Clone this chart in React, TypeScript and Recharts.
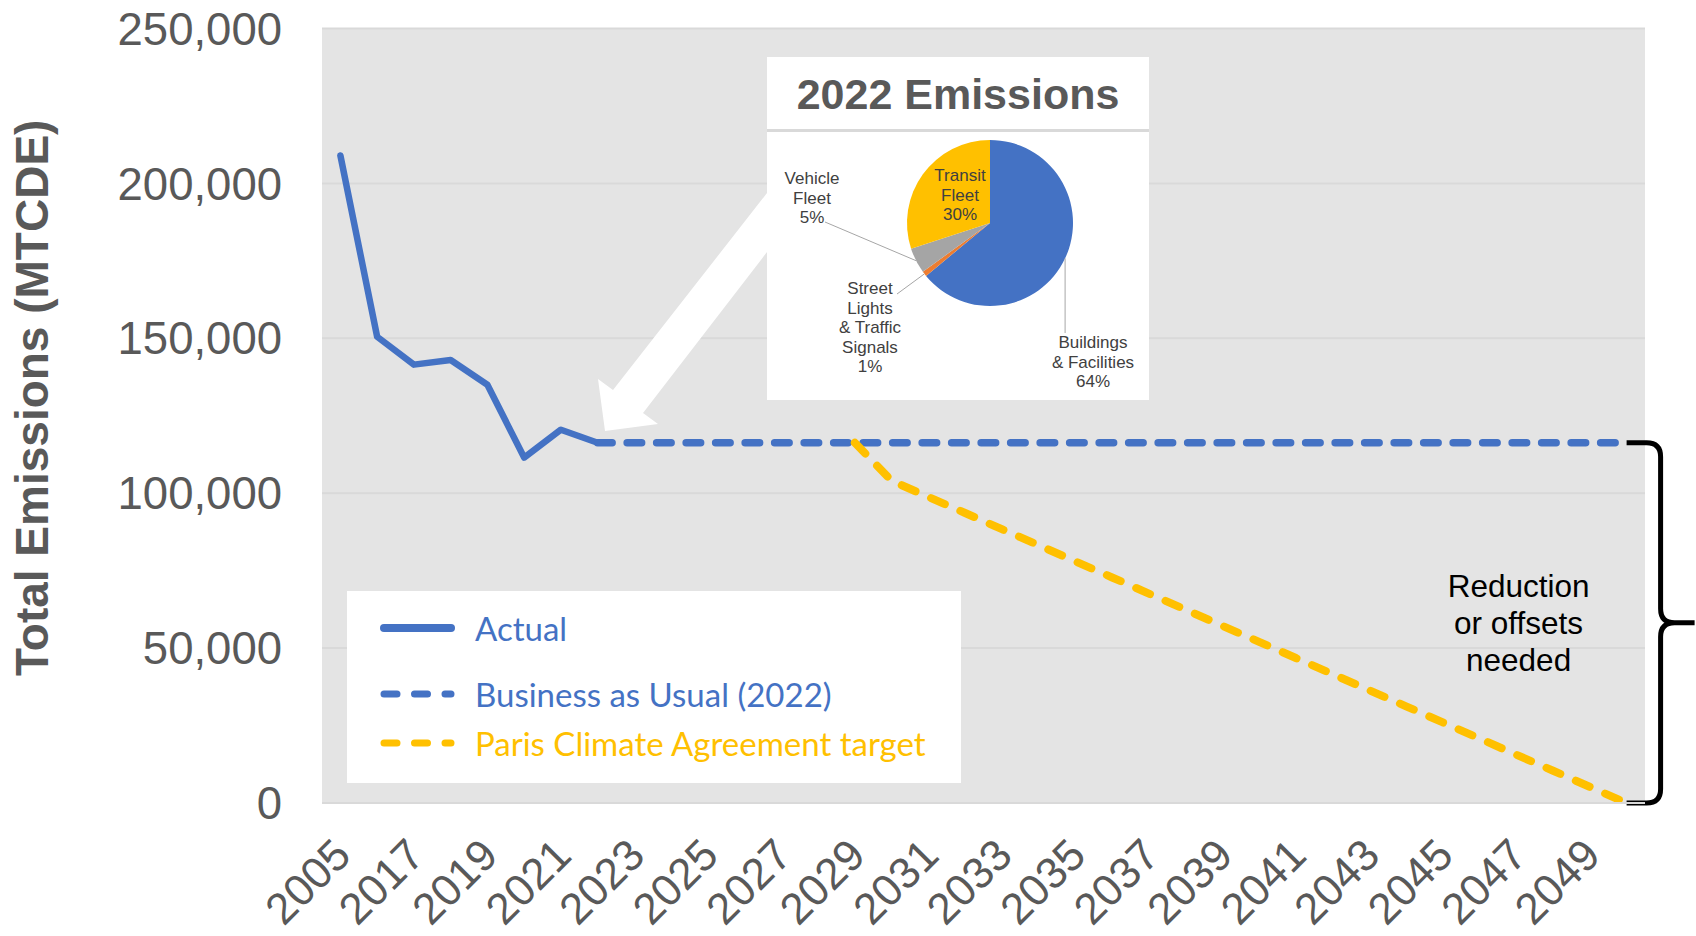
import React from "react"
import {
  LineChart,
  Line,
  XAxis,
  YAxis,
  CartesianGrid,
  Legend,
  ReferenceLine,
  PieChart,
  Pie,
  Cell,
} from "recharts"

const years = [
  "2005", "2016", "2017", "2018", "2019", "2020", "2021", "2022", "2023", "2024",
  "2025", "2026", "2027", "2028", "2029", "2030", "2031", "2032", "2033", "2034",
  "2035", "2036", "2037", "2038", "2039", "2040", "2041", "2042", "2043", "2044",
  "2045", "2046", "2047", "2048", "2049", "2050",
]

const actual = [
  209000, 150500, 141500, 143000, 135000, 111500, 120500, 116300, null, null,
  null, null, null, null, null, null, null, null, null, null,
  null, null, null, null, null, null, null, null, null, null,
  null, null, null, null, null, null,
]

const businessAsUsual = [
  null, null, null, null, null, null, null, 116300, 116300, 116300,
  116300, 116300, 116300, 116300, 116300, 116300, 116300, 116300, 116300, 116300,
  116300, 116300, 116300, 116300, 116300, 116300, 116300, 116300, 116300, 116300,
  116300, 116300, 116300, 116300, 116300, 116300,
]

const parisTarget = [
  null, null, null, null, null, null, null, null, null, null,
  null, null, null, null, 116300, 104000, 98800, 93600, 88400, 83200,
  78000, 72800, 67600, 62400, 57200, 52000, 46800, 41600, 36400, 31200,
  26000, 20800, 15600, 10400, 5200, 0,
]

const yTicks = [0, 50000, 100000, 150000, 200000, 250000]

const pieNames = [
  "Buildings\n& Facilities",
  "Street\nLights\n& Traffic\nSignals",
  "Vehicle\nFleet",
  "Transit\nFleet",
]
const pieValues = [64, 1, 5, 30]
const pieColors = ["#4472C4", "#ED7D31", "#A5A5A5", "#FFC000"]

const rows = years.map((year, i) => ({
  year,
  actual: actual[i],
  bau: businessAsUsual[i],
  paris: parisTarget[i],
}))

const pieData = pieNames.map((name, i) => ({ name, value: pieValues[i] }))

// where each pie label sits, relative to the pie centre
const pieLabelPos = [
  { tx: 103, ty: 119, lx: 74, ly: 110, leader: "vertical" },
  { tx: -120, ty: 65, lx: -93, ly: 71, leader: "line" },
  { tx: -178, ty: -45, lx: -165, ly: -1, leader: "line" },
  { tx: -30, ty: -48, lx: 0, ly: 0, leader: "none" },
]

const RADIAN = Math.PI / 180

const PieLabel = (props: any) => {
  const { cx, cy, midAngle, outerRadius, index, value } = props
  const pos = pieLabelPos[index]
  const ex = cx + outerRadius * Math.cos(-midAngle * RADIAN)
  const ey = cy + outerRadius * Math.sin(-midAngle * RADIAN)
  const lines = [...pieNames[index].split("\n"), `${value}%`]
  let leader = null
  if (pos.leader === "vertical") {
    leader = <line x1={ex} y1={ey} x2={ex} y2={cy + pos.ly} stroke="#A6A6A6" strokeWidth={1} />
  } else if (pos.leader === "line") {
    leader = <line x1={ex} y1={ey} x2={cx + pos.lx} y2={cy + pos.ly} stroke="#A6A6A6" strokeWidth={1} />
  }
  return (
    <g>
      {leader}
      <text textAnchor="middle" fill="#404040" fontSize={17}>
        {lines.map((t, i) => (
          <tspan key={i} x={cx + pos.tx} y={cy + pos.ty + i * 19.6 + 6}>
            {t}
          </tspan>
        ))}
      </text>
    </g>
  )
}

const YearTick = ({ x, y, payload }: any) => {
  const ax = x + 7
  const ay = y - 5
  return (
    <text
      x={ax}
      y={ay}
      dy={8}
      transform={`rotate(-45, ${ax}, ${ay})`}
      textAnchor="end"
      fill="#595959"
      fontSize={44}
    >
      {payload.value}
    </text>
  )
}

const Brace = (props: any) => {
  const { x1, y1, y2 } = props
  const top = Math.min(y1, y2)
  const bot = Math.max(y1, y2)
  const mid = (top + bot) / 2
  const xv = x1 + 34
  const xn = x1 + 68
  const r = 14
  const d = [
    `M ${x1} ${top} H ${xv - r} Q ${xv} ${top} ${xv} ${top + r}`,
    `V ${mid - r} Q ${xv} ${mid} ${xv + r} ${mid} H ${xn}`,
    `M ${xv + r} ${mid} Q ${xv} ${mid} ${xv} ${mid + r}`,
    `V ${bot - r} Q ${xv} ${bot} ${xv - r} ${bot} H ${x1}`,
  ].join(" ")
  const tx = x1 - 108
  return (
    <g>
      <path d={d} fill="none" stroke="#000" strokeWidth={5} />
      <text textAnchor="middle" fill="#000" fontSize={31.5}>
        <tspan x={tx} y={mid - 37 + 11}>Reduction</tspan>
        <tspan x={tx} y={mid + 11}>or offsets</tspan>
        <tspan x={tx} y={mid + 37 + 11}>needed</tspan>
      </text>
    </g>
  )
}

const legendDash: Record<string, string | undefined> = {
  actual: undefined,
  bau: "13 17.5",
  paris: "13 17.5",
}
const legendRowY = [37, 103, 152]

const LegendBox = ({ payload }: any) => (
  <div style={{ position: "relative", width: 614, height: 192, background: "#fff" }}>
    {(payload || []).map((entry: any, i: number) => (
      <div
        key={entry.dataKey}
        style={{ position: "absolute", left: 0, top: legendRowY[i] - 20, height: 40, width: 614 }}
      >
        <svg width={120} height={40} style={{ position: "absolute", left: 0, top: 0 }}>
          <line
            x1={37}
            x2={104}
            y1={20}
            y2={20}
            stroke={entry.color}
            strokeWidth={entry.dataKey === "actual" ? 8 : 7}
            strokeLinecap="round"
            strokeDasharray={legendDash[entry.dataKey]}
          />
        </svg>
        <span
          style={{
            position: "absolute",
            left: 128,
            top: 0,
            lineHeight: "40px",
            fontFamily: "Lato, 'Open Sans', sans-serif",
            fontSize: 33,
            color: entry.color,
            whiteSpace: "nowrap",
          }}
        >
          {entry.value}
        </span>
      </div>
    ))}
  </div>
)

const AxisTitle = ({ viewBox }: any) => {
  const x = viewBox.x + 32
  const y = viewBox.y + viewBox.height / 2 - 18
  return (
    <text
      x={x}
      y={y}
      transform={`rotate(-90, ${x}, ${y})`}
      textAnchor="middle"
      dominantBaseline="central"
      fill="#595959"
      fontSize={46}
      fontWeight="bold"
    >
      Total Emissions (MTCDE)
    </text>
  )
}

export default function App() {
  return (
    <div
      style={{
        position: "absolute",
        left: 0,
        top: 0,
        width: 1696,
        height: 936,
        background: "#fff",
        fontFamily: "'Liberation Sans', Arial, sans-serif",
      }}
    >
      <LineChart
        width={1696}
        height={936}
        data={rows}
        margin={{ top: 28.5, right: 51, left: 0, bottom: 0 }}
      >
        <CartesianGrid vertical={false} stroke="#D9D9D9" strokeWidth={2} fill="#E4E4E4" />
        <XAxis
          dataKey="year"
          interval={1}
          height={133}
          padding={{ left: 18.4, right: 18.4 }}
          tickSize={0}
          tickMargin={54}
          tick={<YearTick />}
          axisLine={{ stroke: "#D9D9D9", strokeWidth: 2 }}
          tickLine={false}
        />
        <YAxis
          width={322}
          domain={[0, 250000]}
          ticks={yTicks}
          tickFormatter={(v: number) => v.toLocaleString("en-US")}
          tick={{ fill: "#595959", fontSize: 45.5 }}
          tickSize={0}
          tickMargin={40}
          axisLine={false}
          tickLine={false}
          label={<AxisTitle />}
        />
        <Legend
          layout="vertical"
          align="center"
          verticalAlign="middle"
          content={<LegendBox />}
          wrapperStyle={{ position: "absolute", left: 347, top: 591, width: 614, height: 192 }}
        />
        <Line
          name="Actual"
          dataKey="actual"
          stroke="#4472C4"
          strokeWidth={6.5}
          strokeLinejoin="round"
          strokeLinecap="round"
          dot={false}
          activeDot={false}
          isAnimationActive={false}
        />
        <Line
          name="Business as Usual (2022)"
          dataKey="bau"
          stroke="#4472C4"
          strokeWidth={7.5}
          strokeDasharray="14.5 15"
          strokeLinecap="round"
          dot={false}
          activeDot={false}
          isAnimationActive={false}
        />
        <Line
          name="Paris Climate Agreement target"
          dataKey="paris"
          stroke="#FFC000"
          strokeWidth={8}
          strokeDasharray="15 17"
          strokeLinecap="round"
          dot={false}
          activeDot={false}
          isAnimationActive={false}
        />
        <ReferenceLine
          segment={[
            { x: "2050", y: 116300 },
            { x: "2050", y: 0 },
          ]}
          ifOverflow="visible"
          shape={Brace}
        />
      </LineChart>

      <svg
        width={1696}
        height={936}
        style={{ position: "absolute", left: 0, top: 0, pointerEvents: "none" }}
      >
        <polygon
          points="605,431 598,379 613,390 767,193 767,252 643,413 658,424"
          fill="#fff"
        />
      </svg>

      <div
        style={{
          position: "absolute",
          left: 767,
          top: 57,
          width: 382,
          height: 343,
          background: "#fff",
        }}
      >
        <div
          style={{
            position: "absolute",
            left: 0,
            top: 13,
            width: 382,
            textAlign: "center",
            fontSize: 43,
            fontWeight: "bold",
            color: "#595959",
          }}
        >
          2022 Emissions
        </div>
        <div
          style={{
            position: "absolute",
            left: 0,
            top: 72,
            width: 382,
            height: 2.5,
            background: "#D9D9D9",
          }}
        />
        <PieChart width={382} height={343} margin={{ top: 0, right: 0, bottom: 0, left: 0 }}>
          <Pie
            data={pieData}
            dataKey="value"
            nameKey="name"
            cx={223}
            cy={166}
            outerRadius={83}
            startAngle={90}
            endAngle={-270}
            stroke="none"
            labelLine={false}
            label={PieLabel}
            isAnimationActive={false}
          >
            {pieData.map((_, i) => (
              <Cell key={i} fill={pieColors[i]} />
            ))}
          </Pie>
        </PieChart>
      </div>
    </div>
  )
}
